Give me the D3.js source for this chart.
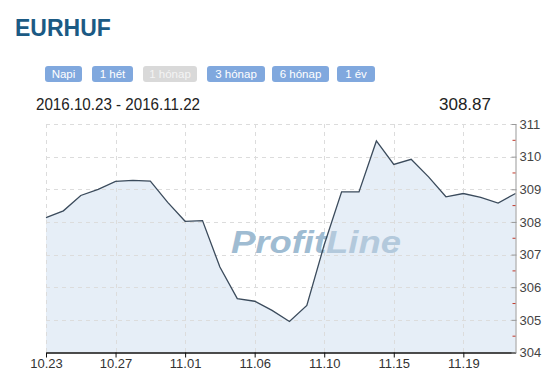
<!DOCTYPE html>
<html>
<head>
<meta charset="utf-8">
<script src="https://cdn.jsdelivr.net/npm/d3@7"></script>
<style>
  body { margin: 0; background: #fff; }
  text { font-family: "Liberation Sans", Arial, sans-serif; }
</style>
</head>
<body>
<svg></svg>
<script>
var width = 547;
var height = 375;

// daily EURHUF closes
var dates = ["10.23", "10.24", "10.25", "10.26", "10.27", "10.28", "10.29", "10.31",
             "11.01", "11.02", "11.03", "11.04", "11.06", "11.07", "11.08", "11.09",
             "11.10", "11.11", "11.12", "11.14", "11.15", "11.16", "11.17", "11.18",
             "11.19", "11.20", "11.21", "11.22"];
var rates = [308.13, 308.34, 308.81, 309.00, 309.24, 309.27, 309.25, 308.60,
             308.02, 308.04, 306.62, 305.65, 305.57, 305.29, 304.95, 305.44,
             307.30, 308.92, 308.92, 310.48, 309.76, 309.92, 309.38, 308.77,
             308.87, 308.75, 308.58, 308.87];
var xTicks = ["10.23", "10.27", "11.01", "11.06", "11.10", "11.15", "11.19"];
var yTicks = [304, 305, 306, 307, 308, 309, 310, 311];
var yMinor = [304.5, 305.5, 306.5, 307.5, 308.5, 309.5, 310.5];
var buttons = ["Napi", "1 hét", "1 hónap", "3 hónap", "6 hónap", "1 év"];
var activeButton = "1 hónap";

var svg = d3.select("svg")
            .attr("width", width)
            .attr("height", height);

var plotLeft = 46, plotRight = 515.5, plotTop = 124, plotBottom = 352.5;

var xScale = d3.scalePoint()
               .domain(dates)
               .range([plotLeft, plotRight]);

var yScale = d3.scaleLinear()
               .domain([304, 311])
               .range([plotBottom, plotTop]);

// title
svg.append("text")
   .attr("x", 15)
   .attr("y", 36)
   .attr("font-size", 23)
   .attr("font-weight", "bold")
   .attr("fill", "#1b5a84")
   .text("EURHUF");

// period buttons
var bx = [45, 92, 143, 207, 272, 337];
var bw = [37, 41, 54, 58, 57, 38];
var btn = svg.selectAll("g.btn")
  .data(buttons)
  .enter()
  .append("g")
  .attr("class", "btn")
  .attr("transform", function(d, i) { return "translate(" + bx[i] + ",66)"; });

btn.append("rect")
   .attr("width", function(d, i) { return bw[i]; })
   .attr("height", 16)
   .attr("rx", 3)
   .attr("fill", function(d) { return d == activeButton ? "#d9d9d9" : "#80a8de"; });

btn.append("text")
   .attr("x", function(d, i) { return bw[i] / 2; })
   .attr("y", 12)
   .attr("text-anchor", "middle")
   .attr("font-size", 11.5)
   .attr("fill", function(d) { return d == activeButton ? "#f4f4f4" : "#fff"; })
   .text(function(d) { return d; });

// range + last value
svg.append("text")
   .attr("x", 36)
   .attr("y", 110)
   .attr("font-size", 17)
   .attr("fill", "#222")
   .attr("textLength", 164)
   .attr("lengthAdjust", "spacingAndGlyphs")
   .text("2016." + dates[0] + " - 2016." + dates[dates.length - 1]);

svg.append("text")
   .attr("x", 491)
   .attr("y", 110)
   .attr("font-size", 17)
   .attr("text-anchor", "end")
   .attr("fill", "#222")
   .attr("textLength", 52)
   .attr("lengthAdjust", "spacingAndGlyphs")
   .text(d3.format(".2f")(rates[rates.length - 1]));

// area
var area = d3.area()
  .x(function(d, i) { return xScale(dates[i]); })
  .y0(plotBottom)
  .y1(function(d) { return yScale(d); });

svg.append("path")
   .datum(rates)
   .attr("d", area)
   .attr("fill", "#e6eef7");

// grid
svg.selectAll("line.hgrid")
  .data(yTicks.slice(1))
  .enter()
  .append("line")
  .attr("x1", plotLeft)
  .attr("x2", plotRight)
  .attr("y1", function(d) { return Math.round(yScale(d)) + 0.5; })
  .attr("y2", function(d) { return Math.round(yScale(d)) + 0.5; })
  .attr("stroke", "#dcdcdc")
  .attr("stroke-dasharray", "4,4");

svg.selectAll("line.vgrid")
  .data(xTicks)
  .enter()
  .append("line")
  .attr("x1", function(d) { return Math.round(xScale(d)) + 0.5; })
  .attr("x2", function(d) { return Math.round(xScale(d)) + 0.5; })
  .attr("y1", plotTop)
  .attr("y2", plotBottom)
  .attr("stroke", "#dcdcdc")
  .attr("stroke-dasharray", "4,4");

// watermark
var wm = svg.append("text")
   .attr("x", 231)
   .attr("y", 253)
   .attr("font-size", 31)
   .attr("font-weight", "bold")
   .attr("font-style", "italic")
   .attr("textLength", 170)
   .attr("lengthAdjust", "spacingAndGlyphs");
wm.append("tspan").attr("fill", "#9fbcd2").text("Profit");
wm.append("tspan").attr("fill", "#b3c9dc").text("Line");

// line
var line = d3.line()
  .x(function(d, i) { return xScale(dates[i]); })
  .y(function(d) { return yScale(d); });

svg.append("path")
   .datum(rates)
   .attr("d", line)
   .attr("fill", "none")
   .attr("stroke", "#3b4b5c")
   .attr("stroke-width", 1.3);

// bottom axis
var xAxis = d3.axisBottom(xScale)
  .tickValues(xTicks)
  .tickSize(5)
  .tickSizeOuter(0);

var gx = svg.append("g")
  .attr("transform", "translate(0," + plotBottom + ")")
  .call(xAxis);
gx.select(".domain").attr("stroke", "#111").attr("stroke-width", 1.5);
gx.selectAll(".tick line").attr("stroke", "#111");
gx.selectAll(".tick text")
  .attr("font-family", "Liberation Sans, Arial, sans-serif")
  .attr("font-size", 13)
  .attr("fill", "#333")
  .attr("y", 6)
  .attr("dy", "0.75em");

// right axis
var yAxis = d3.axisRight(yScale)
  .tickValues(yTicks)
  .tickFormat(d3.format("d"))
  .tickSize(0)
  .tickPadding(4)
  .tickSizeOuter(0);

var gy = svg.append("g")
  .attr("transform", "translate(" + plotRight + ",0)")
  .call(yAxis);
gy.select(".domain").attr("stroke", "#999");
gy.selectAll(".tick text")
  .attr("font-family", "Liberation Sans, Arial, sans-serif")
  .attr("font-size", 13)
  .attr("fill", "#444");
gy.selectAll(".tick").append("line")
  .attr("x1", -4)
  .attr("x2", 1)
  .attr("stroke", "#999");

svg.selectAll("line.minor")
  .data(yMinor)
  .enter()
  .append("line")
  .attr("x1", plotRight - 3)
  .attr("x2", plotRight)
  .attr("y1", function(d) { return yScale(d); })
  .attr("y2", function(d) { return yScale(d); })
  .attr("stroke", "#c0392b");
</script>
</body>
</html>
